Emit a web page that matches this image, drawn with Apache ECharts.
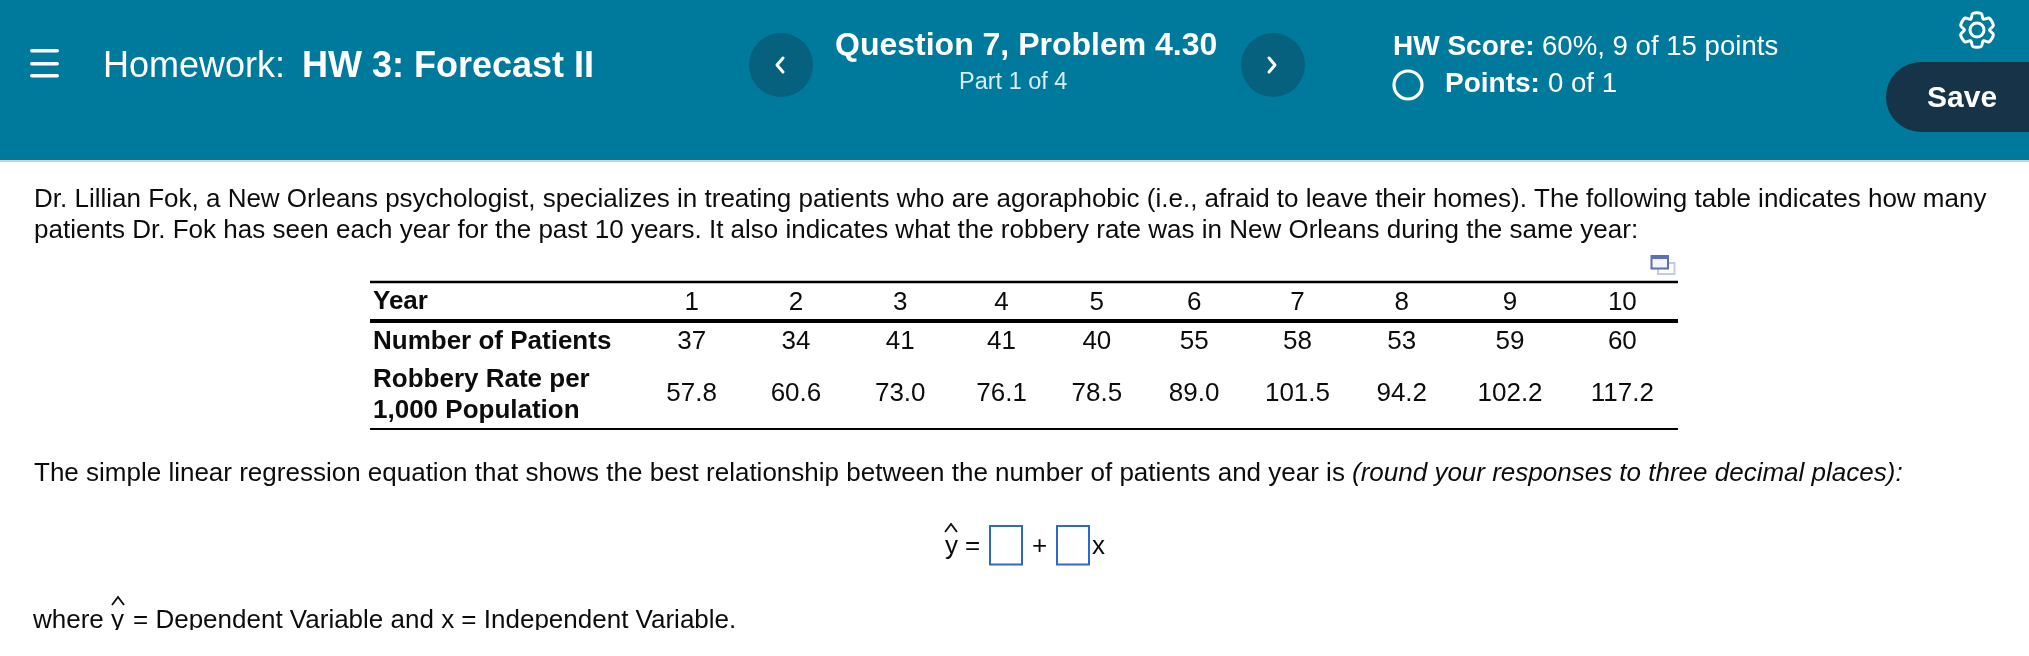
<!DOCTYPE html>
<html><head><meta charset="utf-8">
<style>html,body{margin:0;padding:0;background:#fff}#c{width:2029px;height:656px}</style>
<script src="https://cdn.jsdelivr.net/npm/echarts@6/dist/echarts.min.js"></script>
</head><body><div id="c"></div>
<script>
const years = ['1','2','3','4','5','6','7','8','9','10'];
const patients = ['37','34','41','41','40','55','58','53','59','60'];
const robbery = ['57.8','60.6','73.0','76.1','78.5','89.0','101.5','94.2','102.2','117.2'];
const rowNames = ['Year','Number of Patients','Robbery Rate per 1,000 Population'];

const columnNudge = [0,1,2,0,-8,-14,-14,-13,-8,1];
const rowNudge = [-2,-13,-11];
const FONT = '"Liberation Sans", Arial, sans-serif';
const HEAD = '#007a9c';
const INK = '#0c0c0c';

function t(x, base, text, size, opt) {
  opt = opt || {};
  return { type:'text', x:x, y:base - size*0.27, silent:true, z:10, style:{
    text:text, fontFamily:FONT, fontSize:size, fontWeight:opt.w||'normal', fontStyle:opt.i?'italic':'normal',
    fill:opt.c||INK, align:opt.a||'left', verticalAlign:'middle' } };
}
function rect(x,y,w,h,fill,r){ return {type:'rect',silent:true,z:1,shape:{x,y,width:w,height:h,r:r||0},style:{fill}}; }
function line(x1,y,x2,lw,c){ return {type:'line',silent:true,z:2,shape:{x1,y1:y,x2,y2:y},style:{stroke:c||'#000',lineWidth:lw}}; }
function chevron(cx,cy,dir){ return {type:'polyline',silent:true,z:5,shape:{points:[[cx-3*dir,cy-7],[cx+3*dir,cy],[cx-3*dir,cy+7]]},style:{stroke:'#fff',lineWidth:3,fill:null,lineCap:'round',lineJoin:'round'}}; }
function caret(cx,top){ return {type:'polyline',silent:true,z:10,shape:{points:[[cx-6,top+8],[cx,top],[cx+6,top+8]]},style:{stroke:INK,lineWidth:1.8,fill:null}}; }
function gearPoints(cx,cy){
  const out=[]; const n=6;
  for(let i=0;i<n;i++){
    const a=-Math.PI/2+i*2*Math.PI/n, s=0.25;
    out.push([cx+17*Math.cos(a-s),cy+17*Math.sin(a-s)]);
    out.push([cx+17*Math.cos(a+s),cy+17*Math.sin(a+s)]);
    const b=a+Math.PI/n;
    out.push([cx+12.5*Math.cos(b),cy+12.5*Math.sin(b)]);
  }
  return out;
}
const WHITE='#fff';
const graphic = [
  rect(0,0,2029,160,HEAD),
  rect(0,160,2029,2,'#c8d2db'),
  rect(30,49,29,3.4,WHITE,1.7), rect(30,62,29,3.4,WHITE,1.7), rect(30,74,29,3.4,WHITE,1.7),
  t(103,77,'Homework:',36,{c:WHITE}),
  t(302,77,'HW 3: Forecast II',36,{c:WHITE,w:'bold'}),
  {type:'circle',silent:true,z:2,shape:{cx:781,cy:65,r:32},style:{fill:'#06617f'}},
  {type:'circle',silent:true,z:2,shape:{cx:1273,cy:65,r:32},style:{fill:'#06617f'}},
  chevron(780,65,-1), chevron(1272,65,1),
  t(835,55,'Question 7, Problem 4.30',32,{c:WHITE,w:'bold'}),
  t(959,89,'Part 1 of 4',23.5,{c:'#d9edf3'}),
  t(1393,55,'HW Score:',28,{c:WHITE,w:'bold'}),
  t(1542,55,'60%, 9 of 15 points',27.6,{c:WHITE}),
  {type:'circle',silent:true,z:3,shape:{cx:1408,cy:85,r:14},style:{fill:null,stroke:WHITE,lineWidth:3.2}},
  t(1445,92,'Points:',28,{c:WHITE,w:'bold'}),
  t(1548,92,'0 of 1',27.6,{c:WHITE}),
  {type:'polygon',silent:true,z:3,shape:{points:gearPoints(1977,30),smooth:0.3},style:{fill:null,stroke:WHITE,lineWidth:3}},
  {type:'circle',silent:true,z:3,shape:{cx:1977,cy:30,r:7},style:{fill:null,stroke:WHITE,lineWidth:3}},
  rect(1886,62,190,70,'#173347',35),
  t(1927,107,'Save',30,{c:WHITE,w:'bold'}),

  t(34,207,'Dr. Lillian Fok, a New Orleans psychologist, specializes in treating patients who are agoraphobic (i.e., afraid to leave their homes). The following table indicates how many',26),
  t(34,238,'patients Dr. Fok has seen each year for the past 10 years. It also indicates what the robbery rate was in New Orleans during the same year:',26),

  {type:'rect',silent:true,z:2,shape:{x:1658,y:263,width:16.5,height:11},style:{fill:'#fff',stroke:'#c3c9e6',lineWidth:2}},
  {type:'rect',silent:true,z:3,shape:{x:1651.5,y:256,width:16.5,height:12.5},style:{fill:'#f4f5fb',stroke:'#5e6fb5',lineWidth:2}},
  {type:'rect',silent:true,z:4,shape:{x:1651,y:255,width:18,height:4},style:{fill:'#5e6fb5'}},

  line(370,282,1678,2.5),
  line(370,321,1678,4),
  line(370,429,1678,2),
  t(373,309,rowNames[0],26,{w:'bold'}),
  t(373,349,rowNames[1],26,{w:'bold'}),
  t(373,387,'Robbery Rate per',26,{w:'bold'}),
  t(373,418,'1,000 Population',26,{w:'bold'}),

  t(34,481,'The simple linear regression equation that shows the best relationship between the number of patients and year is',26),
  t(1352,481,'(round your responses to three decimal places):',26,{i:true}),

  t(945,554,'y',26), caret(951,524),
  t(965,554,'=',26),
  {type:'rect',silent:true,z:3,shape:{x:990,y:526,width:32,height:38.5},style:{fill:'#fff',stroke:'#2f66cf',lineWidth:2}},
  t(1032,554,'+',26),
  {type:'rect',silent:true,z:3,shape:{x:1057,y:526,width:32,height:38.5},style:{fill:'#fff',stroke:'#2f66cf',lineWidth:2}},
  t(1092,554,'x',26),

  t(33,628,'where',26), t(111,628,'y',26), caret(118,597),
  t(133,628,'= Dependent Variable and x = Independent Variable.',26),
  {type:'rect',silent:true,z:20,shape:{x:0,y:630,width:2029,height:26},style:{fill:'#fff'}}
];

const cells = [];
[years,patients,robbery].forEach((vals,r)=>vals.forEach((v,c)=>cells.push([c,r,v])));

const chart = echarts.init(document.getElementById('c'),null,{renderer:'canvas'});
chart.setOption({
  animation:false,
  backgroundColor:'#fff',
  grid:{left:640,width:1033,top:280,height:150,containLabel:false},
  xAxis:{type:'category',data:years,show:false},
  yAxis:{type:'category',data:rowNames,inverse:true,show:false},
  series:[{
    type:'custom',
    coordinateSystem:'cartesian2d',
    encode:{x:0,y:1},
    data:cells,
    silent:true,
    z:10,
    renderItem:function(params,api){
      const c=api.value(0), r=api.value(1);
      const p=api.coord([c,r]);
      return {type:'text',x:p[0]+columnNudge[c],y:p[1]+rowNudge[r],silent:true,
        style:{text:cells[params.dataIndex][2],fontFamily:FONT,fontSize:26,fill:INK,align:'center',verticalAlign:'middle'}};
    }
  }],
  graphic:graphic
});
</script></body></html>
